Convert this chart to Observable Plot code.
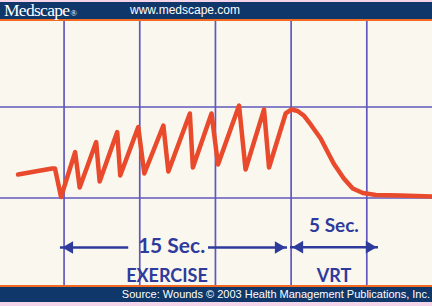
<!DOCTYPE html>
<html><head><meta charset="utf-8">
<script src="https://cdn.jsdelivr.net/npm/d3@7"></script>
<script src="https://cdn.jsdelivr.net/npm/@observablehq/plot@0.6"></script>
<style>
html,body{margin:0;padding:0;}
body{width:432px;height:306px;position:relative;background:#f3d4e9;overflow:hidden;font-family:"Liberation Sans",Arial,sans-serif;}
#hdr{position:absolute;left:0;top:2px;width:432px;height:17px;background:#0f3769;border-bottom:2px solid #f26a21;}
#brand{position:absolute;left:4px;top:0px;font-family:"Liberation Serif","Times New Roman",serif;font-size:17.5px;line-height:17px;color:#fff;letter-spacing:-0.7px;}
#brand sup{font-size:9px;vertical-align:baseline;letter-spacing:0;margin-left:1px;}
#url{position:absolute;left:130px;top:0px;font-size:12px;line-height:17px;color:#fff;}
#chart{position:absolute;left:0;top:21px;width:432px;height:264px;}
#ftr{position:absolute;left:0;top:285px;width:432px;height:15px;background:#0f3769;border-top:2px solid #f26a21;}
#src{position:absolute;right:2px;top:0px;font-size:11px;line-height:15px;color:#fff;white-space:nowrap;}
</style></head>
<body>
<div id="hdr"><span id="brand">Medscape<sup>®</sup></span><span id="url">www.medscape.com</span></div>
<div id="chart"></div>
<div id="ftr"><span id="src">Source: Wounds © 2003 Health Management Publications, Inc.</span></div>
<script>
// Trace: time in seconds (0 = start of exercise), level in grid units
const time  = [-3.04, -1.92, -0.79, -0.60, -0.20, 0.73, 1.03, 2.12, 2.35, 3.51, 3.71, 4.90, 5.30, 6.56, 6.89, 8.31, 8.51, 9.74, 10.17, 11.56, 11.99, 13.21, 13.54, 14.64, 15.03, 15.43, 15.83, 16.29, 16.95, 17.81, 18.48, 19.07, 19.74, 20.60, 22.25, 24.37];
const level = [0.258, 0.291, 0.324, 0.324, 0.011, 0.505, 0.115, 0.615, 0.181, 0.725, 0.247, 0.780, 0.269, 0.797, 0.291, 0.929, 0.335, 0.929, 0.368, 1.016, 0.313, 0.973, 0.335, 0.929, 0.973, 0.956, 0.907, 0.808, 0.654, 0.379, 0.214, 0.104, 0.055, 0.033, 0.027, 0.016];

const gridX = [0, 5, 10, 15, 20];
const gridY = [0, 1];

// Annotation arrows
const shaftStart = [-0.24, 9.54, 14.96];
const shaftEnd   = [4.27, 14.76, 20.77];
const shaftLevel = [-0.544, -0.544, -0.540];
const headRightX = [14.76, 20.77];
const headLeftX  = [-0.24, 14.96];
const headLevel  = [-0.544, -0.540];

const labelText  = ["15 Sec.", "5 Sec.", "EXERCISE", "VRT"];
const labelX     = [7.10, 17.83, 6.80, 17.83];
const labelY     = [-0.530, -0.309, -0.855, -0.855];
const labelSize  = [21, 19, 18, 18];

const trace = time.map((t, i) => ({t, v: level[i]}));
const shafts = shaftStart.map((x1, i) => ({x1, x2: shaftEnd[i], y: shaftLevel[i]}));
const headsR = headRightX.map((x, i) => ({x, y: headLevel[i]}));
const headsL = headLeftX.map((x, i) => ({x, y: headLevel[i]}));
const labels = labelText.map((s, i) => ({s, x: labelX[i], y: labelY[i], size: labelSize[i]}));

const ink = "#2e3b9d";
const grid = "#6058bd";

const plot = Plot.plot({
  width: 432, height: 264, margin: 0,
  x: {domain: [-4.2, 24.34], axis: null},
  y: {domain: [-0.9615, 1.9396], axis: null},
  style: {background: "#faf7ef"},
  marks: [
    Plot.ruleX(gridX, {stroke: grid, strokeWidth: 1.7}),
    Plot.ruleY(gridY, {stroke: grid, strokeWidth: 1.7}),
    Plot.line(trace, {x: "t", y: "v", stroke: "#e94a2c", strokeWidth: 4.5, strokeLinejoin: "round", strokeLinecap: "round"}),
    Plot.ruleY(shafts, {y: "y", x1: "x1", x2: "x2", stroke: ink, strokeWidth: 2.5}),
    Plot.dot(headsR, {x: "x", y: "y", symbol: "triangle2", rotate: 90, r: 6, fill: ink, dx: -9}),
    Plot.dot(headsL, {x: "x", y: "y", symbol: "triangle2", rotate: -90, r: 6, fill: ink, dx: 9}),
    ...labels.map(d => Plot.text([d], {x: "x", y: "y", text: "s", fill: ink, fontSize: d.size, fontFamily: "Lato", fontWeight: "bold", textAnchor: "middle", lineAnchor: "middle"}))
  ]
});
document.getElementById("chart").appendChild(plot);
</script>
</body></html>
